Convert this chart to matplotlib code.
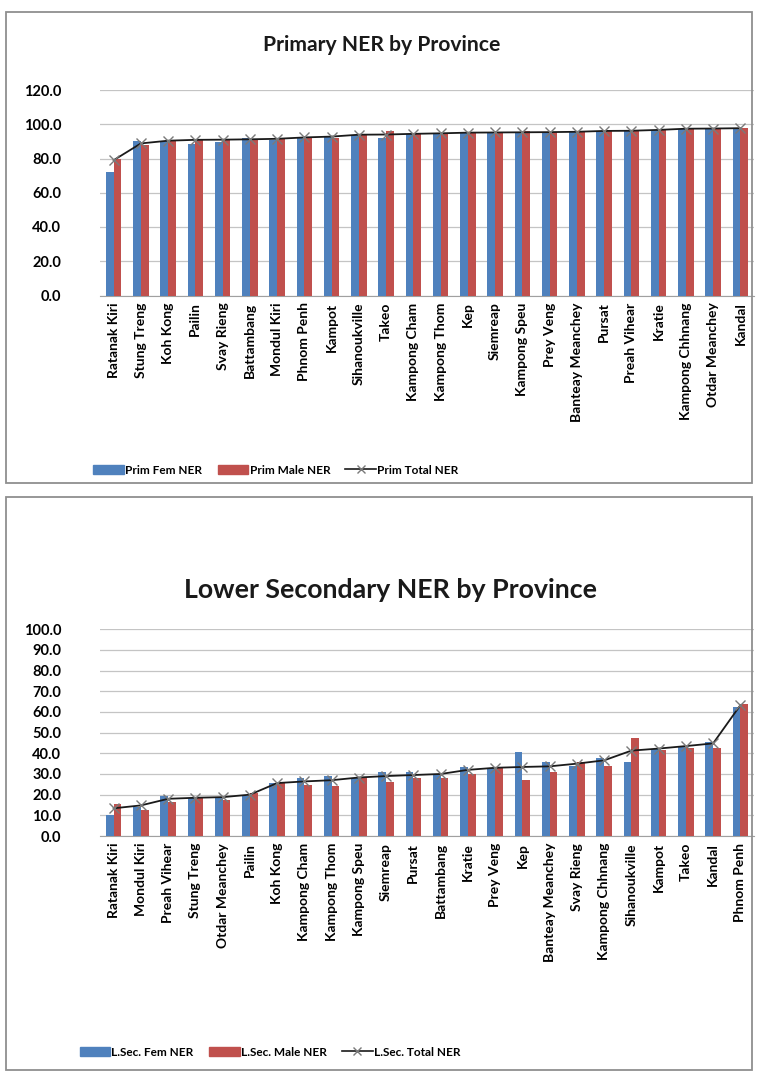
import numpy as np
import matplotlib.pyplot as plt
from matplotlib.patches import Rectangle
from matplotlib.lines import Line2D

# Datos: NER primaria por provincia
prim_provinces = ['Ratanak Kiri', 'Stung Treng', 'Koh Kong', 'Pailin', 'Svay Rieng',
                  'Battambang', 'Mondul Kiri', 'Phnom Penh', 'Kampot', 'Sihanoukville',
                  'Takeo', 'Kampong Cham', 'Kampong Thom', 'Kep', 'Siemreap',
                  'Kampong Speu', 'Prey Veng', 'Banteay Meanchey', 'Pursat',
                  'Preah Vihear', 'Kratie', 'Kampong Chhnang', 'Otdar Meanchey', 'Kandal']
prim_fem = [72.4, 90.2, 90.0, 88.4, 89.4, 91.7, 91.0, 92.3, 92.3, 93.6, 91.7, 94.5,
            94.6, 95.0, 95.0, 95.0, 95.2, 95.5, 96.0, 96.0, 96.5, 97.2, 97.3, 97.6]
prim_male = [79.6, 87.9, 90.7, 91.3, 91.5, 90.7, 91.2, 92.3, 91.7, 94.2, 96.1, 94.4,
             95.0, 95.5, 95.3, 95.8, 95.5, 95.8, 96.3, 96.4, 96.8, 97.6, 97.6, 97.8]
prim_total = [79.0, 88.8, 90.4, 90.9, 91.0, 91.2, 91.5, 92.3, 92.8, 93.9, 94.0, 94.4,
              94.7, 95.1, 95.2, 95.3, 95.4, 95.6, 96.1, 96.2, 96.7, 97.4, 97.5, 97.7]

# Datos: NER secundaria baja por provincia
sec_provinces = ['Ratanak Kiri', 'Mondul Kiri', 'Preah Vihear', 'Stung Treng',
                 'Otdar Meanchey', 'Pailin', 'Koh Kong', 'Kampong Cham', 'Kampong Thom',
                 'Kampong Speu', 'Siemreap', 'Pursat', 'Battambang', 'Kratie',
                 'Prey Veng', 'Kep', 'Banteay Meanchey', 'Svay Rieng', 'Kampong Chhnang',
                 'Sihanoukville', 'Kampot', 'Takeo', 'Kandal', 'Phnom Penh']
sec_fem = [10.2, 14.2, 19.4, 18.2, 18.2, 19.2, 25.8, 27.9, 29.0, 27.9, 31.1, 31.1,
           29.5, 33.5, 32.7, 40.5, 36.0, 34.0, 37.8, 35.6, 41.9, 43.2, 45.6, 62.6]
sec_male = [15.3, 12.6, 16.6, 18.7, 17.6, 20.6, 25.5, 24.7, 24.2, 28.7, 26.3, 27.9,
            27.9, 29.8, 33.5, 27.1, 30.8, 35.6, 34.0, 47.3, 41.5, 42.4, 42.4, 63.9]
sec_total = [13.4, 14.8, 18.0, 18.5, 18.8, 20.0, 25.6, 26.4, 27.0, 28.3, 29.0, 29.5,
             30.0, 32.0, 33.0, 33.4, 33.7, 35.0, 36.6, 41.3, 42.3, 43.5, 44.8, 63.3]

BLUE = '#4F81BD'
RED = '#C0504D'
W, H = 760, 1074

fig = plt.figure(figsize=(W / 100, H / 100), dpi=100)

# Marcos grises de cada gráfica
for (y0, y1) in [(12, 483), (497, 1070)]:
    fig.patches.append(Rectangle((6 / W, 1 - y1 / H), (752 - 6) / W, (y1 - y0) / H,
                                 transform=fig.transFigure, fill=False,
                                 edgecolor='#8f8f8f', linewidth=1.3))


def draw_panel(ax, provinces, fem, male, total, ymax, ystep):
    x = np.arange(len(provinces))
    w = 0.286
    ax.bar(x - w / 2, fem, width=w, color=BLUE, zorder=3)
    ax.bar(x + w / 2, male, width=w, color=RED, zorder=3)
    ax.plot(x, total, color='#1a1a1a', linewidth=1.3, marker='x', markersize=7,
            markeredgecolor='#7a7a7a', markeredgewidth=1.0, zorder=4)
    ax.set_xlim(-0.5, len(provinces) - 0.5)
    ax.set_ylim(0, ymax)
    ticks = np.arange(0, ymax + 0.1, ystep)
    ax.set_yticks(ticks)
    ax.set_yticklabels([f'{v:.1f}' for v in ticks],
                       fontsize=10.5, fontweight='bold', family='Lato')
    ax.set_xticks(x)
    ax.set_xticklabels(provinces, rotation=90, fontsize=10, fontweight='bold',
                       family='Lato')
    ax.tick_params(axis='y', length=0, pad=28)
    ax.tick_params(axis='x', length=0, pad=5)
    ax.grid(axis='y', color='#c4c4c4', linewidth=0.9, zorder=0)
    for s in ['top', 'right', 'left']:
        ax.spines[s].set_visible(False)
    ax.spines['bottom'].set_color('#a0a0a0')


# Gráfica superior
ax1 = fig.add_axes([100 / W, 1 - 295.5 / H, 654 / W, 205.5 / H])
draw_panel(ax1, prim_provinces, prim_fem, prim_male, prim_total, 120, 20)
fig.text(382 / W, 1 - 45 / H, 'Primary NER by Province', ha='center', va='center',
         fontsize=15.2, fontweight='bold', family='Lato', color='#1a1a1a')

# Gráfica inferior
ax2 = fig.add_axes([100 / W, 1 - 836 / H, 654 / W, 206.7 / H])
draw_panel(ax2, sec_provinces, sec_fem, sec_male, sec_total, 100, 10)
fig.text(390 / W, 1 - 590 / H, 'Lower Secondary NER by Province', ha='center',
         va='center', fontsize=19.3, fontweight='bold', family='Lato', color='#1a1a1a')

# Leyendas
def legend_handles():
    return [Rectangle((0, 0), 1, 1, color=BLUE), Rectangle((0, 0), 1, 1, color=RED),
            Line2D([0], [0], color='#1a1a1a', linewidth=1.2, marker='x', markersize=6,
                   markeredgecolor='#7a7a7a')]


legend_font = {'family': 'Lato', 'weight': 'bold', 'size': 8.5}
fig.legend(legend_handles(), ['Prim Fem NER', 'Prim Male NER', 'Prim Total NER'],
           loc='center', bbox_to_anchor=(276 / W, 1 - 470 / H), ncol=3, frameon=False,
           prop=legend_font, handlelength=2.6, handleheight=0.8, handletextpad=0.1,
           columnspacing=1.3)
fig.legend(legend_handles(), ['L.Sec. Fem NER', 'L.Sec. Male NER', 'L.Sec. Total NER'],
           loc='center', bbox_to_anchor=(270 / W, 1 - 1052 / H), ncol=3, frameon=False,
           prop=legend_font, handlelength=2.6, handleheight=0.8, handletextpad=0.1,
           columnspacing=1.3)

plt.savefig('out.png', dpi=100)
